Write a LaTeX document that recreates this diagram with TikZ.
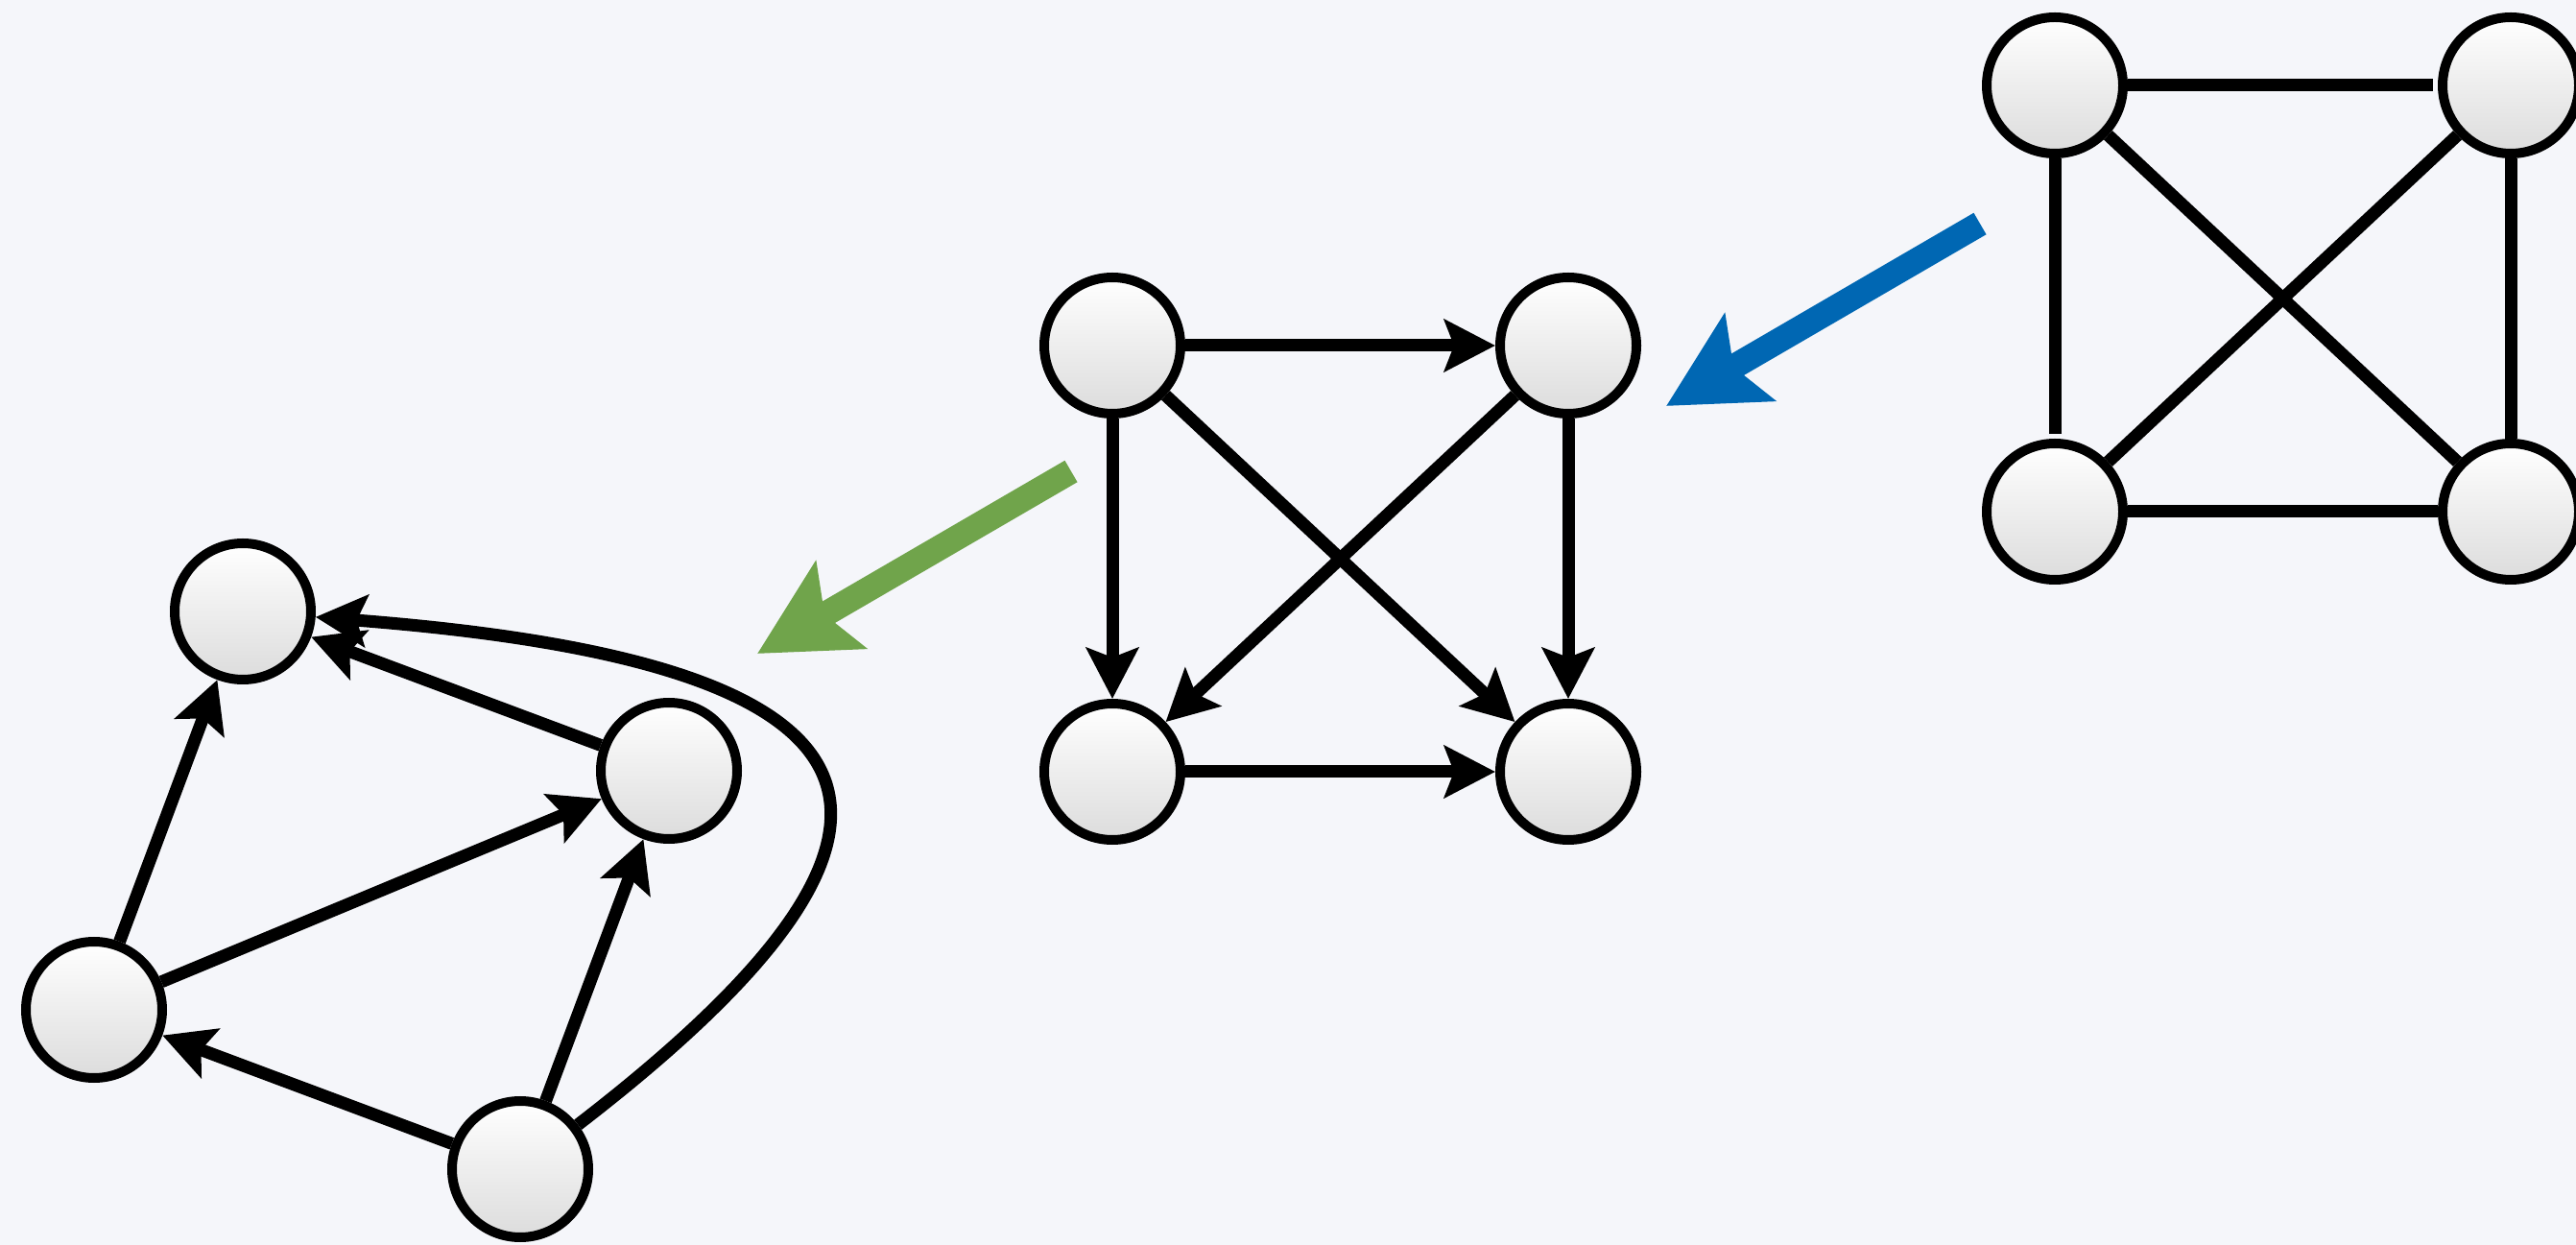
\documentclass[tikz,border=0pt]{standalone}
\usepackage{xcolor}
\usepackage{tikz}
\usetikzlibrary{arrows.meta,positioning}
\definecolor{bgPale}{HTML}{F5F6FA}
\definecolor{arBlue}{HTML}{0067B3}
\definecolor{arGreen}{HTML}{70A44B}
\definecolor{ndGray}{HTML}{DCDCDC}

\begin{document}
\begin{tikzpicture}[
 vert/.style={circle,draw=black,line width=1mm,minimum size=14.2mm,inner sep=0pt,
   top color=white,bottom color=ndGray},
 edge/.style={line width=1.3mm,draw=black},
 arr/.style={edge,-{Stealth[length=5.3mm,width=5.4mm,inset=1mm]}},
 big/.style={line width=2.6mm,-{Stealth[length=10mm,width=10.3mm,inset=1.9mm]}},
 node distance=29.2mm and 32.3mm]
\fill[bgPale] (0,0) rectangle (26.84,-12.97);
\useasboundingbox (0,0) rectangle (26.84,-12.97);
\node[vert] (kTL) at (21.41,-0.89) {};
\node[vert,right=of kTL] (kTR) {};
\node[vert,below=of kTL] (kBL) {};
\node[vert,below=of kTR] (kBR) {};
\draw[edge,shorten >=0.5mm] (kTL)--(kTR);
\draw[edge,shorten >=0.5mm] (kTL)--(kBL);
\draw[edge] (kTL)--(kBR);
\draw[edge] (kTR)--(kBL);
\draw[edge] (kTR)--(kBR);
\draw[edge] (kBL)--(kBR);
\node[vert] (dTL) at (11.59,-3.60) {};
\node[vert,right=of dTL] (dTR) {};
\node[vert,below=of dTL] (dBL) {};
\node[vert,below=of dTR] (dBR) {};
\draw[arr] (dTL)--(dTR);
\draw[arr] (dTL)--(dBL);
\draw[arr] (dTL)--(dBR);
\draw[arr] (dTR)--(dBL);
\draw[arr] (dTR)--(dBR);
\draw[arr] (dBL)--(dBR);
\node[vert] (gTop) at (2.53,-6.37) {};
\node[vert] (gRight) at (6.97,-8.03) {};
\node[vert] (gLeft) at (0.98,-10.52) {};
\node[vert] (gBottom) at (5.42,-12.18) {};
\draw[arr] (gLeft)--(gTop);
\draw[arr] (gRight)--(gTop);
\draw[arr] (gLeft)--(gRight);
\draw[arr] (gBottom)--(gLeft);
\draw[arr] (gBottom)--(gRight);
\draw[arr] (gBottom) .. controls (10.20,-8.50) and (9.40,-6.90) .. (gTop);
\coordinate (blueS) at (20.63,-2.33);
\coordinate (blueE) at (17.36,-4.23);
\coordinate (greenS) at (11.16,-4.91);
\coordinate (greenE) at (7.89,-6.81);
\draw[big,arBlue] (blueS)--(blueE);
\draw[big,arGreen] (greenS)--(greenE);
\end{tikzpicture}
\end{document}
